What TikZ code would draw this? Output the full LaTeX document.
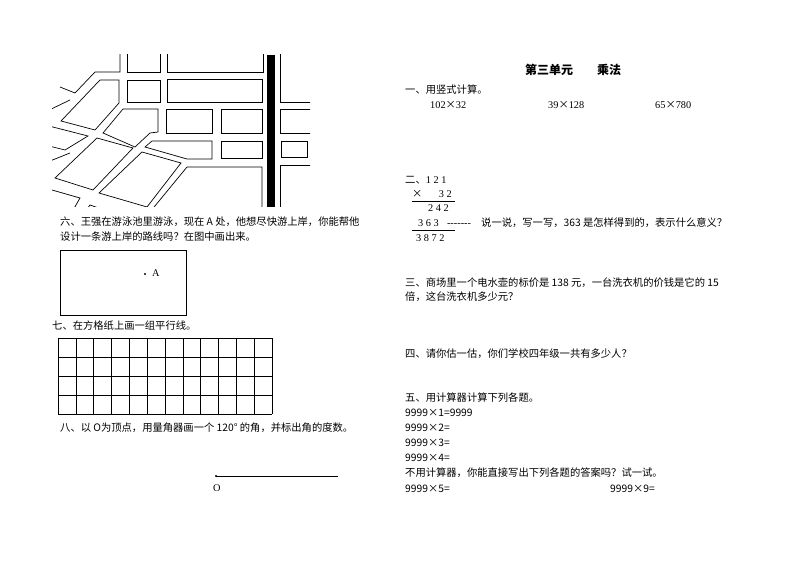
\documentclass[tikz,border=0pt]{standalone}
\usepackage{fontspec}
\setmainfont{Liberation Serif}
\newfontfamily\cjk{Noto Sans CJK SC}
\begin{document}
\begin{tikzpicture}[x=1pt,y=-1pt,
  t/.style={anchor=west,inner sep=0pt,font=\cjk\fontsize{10.3}{12}\selectfont},
  n/.style={anchor=west,inner sep=0pt,font=\fontsize{10.3}{12}\selectfont},
  m/.style={line width=0.7pt,line join=miter},
  g/.style={line width=0.6pt}]
\useasboundingbox (0,0) rectangle (794,561);
% map
\begin{scope}
\clip (52,55) rectangle (310,207);
\draw[m] (127,50)--(127,72)--(160,72)--(160,50);
\draw[m] (167,50)--(167,72)--(263,72)--(263,50);
\draw[m] (120,50)--(120,72)--(95,72)--(75,93)--(60,87);
\draw[m] (127,80) rectangle (160,102);
\draw[m] (167,79) rectangle (262,102);
\draw[m] (280,50)--(280,102)--(312,102);
\draw[m] (166,109) rectangle (212,133);
\draw[m] (221,109) rectangle (262,133);
\draw[m] (280,109)--(312,109);\draw[m] (280,109)--(280,133)--(312,133);
\draw[m] (152,141)--(212,141)--(212,159)--(187,159)--(145,147)--cycle;
\draw[m] (221,141) rectangle (262,158);
\draw[m] (281,141)--(307,141)--(307,157)--(281,157)--cycle;
\draw[m] (312,165)--(280,165)--(280,212);
\draw[m] (150,212)--(187,167)--(262,167)--(262,212);
\draw[m] (100,80)--(119,80)--(119,103)--(95,130)--(61,121)--cycle;
\draw[m] (123,109)--(158,109)--(158,132)--(150,133)--(135,147)--(103,133)--cycle;
\draw[m] (97,138)--(133,148)--(93,190)--(55,178)--cycle;
\draw[m] (142,152)--(181,163)--(147,207)--(99,193)--cycle;
\draw[m] (45,112)--(70,100);
\draw[m] (45,125)--(88,136)--(65,150)--(45,145);
\draw[m] (45,163)--(70,153);
\draw[m] (45,188)--(80,198)--(72,212);
\draw[m] (85,212)--(90,205)--(110,212);
\fill (267,55) rectangle (275,207);
\end{scope}
\draw[line width=0.6pt] (307,147)--(307,152);
% left texts
\node[t] (l6a) at (60,222) {六、王强在游泳池里游泳，现在 A 处，他想尽快游上岸，你能帮他};
\node[t] (l6b) at (60,237) {设计一条游上岸的路线吗？在图中画出来。};
\draw[g] (60,250) rectangle (186,315);
\fill (145,274) circle (1.1pt);
\node[n] (A) at (152,273) {A};
\node[t] (l7) at (52,326) {七、在方格纸上画一组平行线。};
\foreach \i in {0,...,12} \draw[g] ({58+\i*214/12},338)--({58+\i*214/12},414);
\foreach \j in {0,...,4} \draw[g] (58,{338+\j*19})--(272,{338+\j*19});
\node[t] (l8) at (60,428) {八、以 O为顶点，用量角器画一个 120° 的角，并标出角的度数。};
\coordinate (O) at (216,476);
\coordinate (E) at (338,476);
\draw[g] (O)--(E);
\fill (O) circle (1.1pt);
\node[n] (Ol) at (213,488) {O};
% right column
\node[inner sep=0pt,font=\cjk\bfseries\fontsize{12}{14}\selectfont] (title) at (573,70) {第三单元\hspace{2em}乘法};
\node[t] (r1) at (405,90) {一、用竖式计算。};
\node[n] (p1) at (430,105) {102{\cjk ×}32};
\node[n] (p2) at (548,105) {39{\cjk ×}128};
\node[n] (p3) at (655,105) {65{\cjk ×}780};
\node[t] (r2) at (405,180) {二、\fontspec{Liberation Serif}1 2 1};
\node[t] (r2b) at (412,194) {×\hspace{1.6em}\fontspec{Liberation Serif}3 2};
\draw[g] (412,201)--(455,201);
\node[n] (r2c) at (428,208) {2 4 2};
\node[n] (r2d) at (418,223) {3 6 3\hspace{0.8em}{-}{-}{-}{-}{-}{-}{-}};
\node[t] (r2e) at (481,223) {说一说，写一写，363 是怎样得到的，表示什么意义？};
\draw[g] (412,230)--(455,230);
\node[n] (r2f) at (416,238) {3 8 7 2};
\node[t] (r3a) at (405,283) {三、商场里一个电水壶的标价是 138 元，一台洗衣机的价钱是它的 15};
\node[t] (r3b) at (405,297) {倍，这台洗衣机多少元？};
\node[t] (r4) at (405,354) {四、请你估一估，你们学校四年级一共有多少人？};
\node[t] (r5) at (405,398) {五、用计算器计算下列各题。};
\node[t] (q1) at (405,413) {9999×1=9999};
\node[t] (q2) at (405,428) {9999×2=};
\node[t] (q3) at (405,443) {9999×3=};
\node[t] (q4) at (405,458) {9999×4=};
\node[t] (r6) at (405,473) {不用计算器，你能直接写出下列各题的答案吗？试一试。};
\node[t] (q5) at (405,489) {9999×5=};
\node[t] (q9) at (610,489) {9999×9=};
\end{tikzpicture}
\end{document}
